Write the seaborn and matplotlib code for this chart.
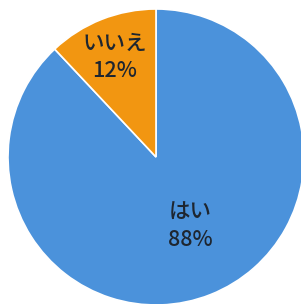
import matplotlib
matplotlib.use("Agg")
import matplotlib.pyplot as plt
import seaborn as sns

sns.set_theme(style="white")
plt.rcParams['font.family'] = ['Noto Sans CJK JP', 'DejaVu Sans']

categories = ["はい", "いいえ"]
values = [88, 12]
colors = ["#4b92db", "#f29611"]

fig = plt.figure(figsize=(3.01, 3.04), dpi=100)
ax = fig.add_axes([0, 0, 1, 1])
wedges, _ = ax.pie(values, colors=colors, startangle=90 + 360 * values[1] / 100,
                   counterclock=True, radius=1.0,
                   wedgeprops=dict(edgecolor="white", linewidth=1.2))
ax.set_aspect('auto')
ax.set_xlim(-156 / 148, 145 / 148)
ax.set_ylim(-147 / 148, 157 / 148)
ax.axis('off')

label_pos = {"はい": (0.23, -0.47), "いいえ": (-0.28, 0.67)}
for cat, val in zip(categories, values):
    x, y = label_pos[cat]
    ax.text(x, y, f"{cat}\n{val}%", ha="center", va="center", fontsize=15.5,
            color="#1e2630", fontweight="medium", linespacing=1.3)

fig.savefig("out.png", dpi=100)
